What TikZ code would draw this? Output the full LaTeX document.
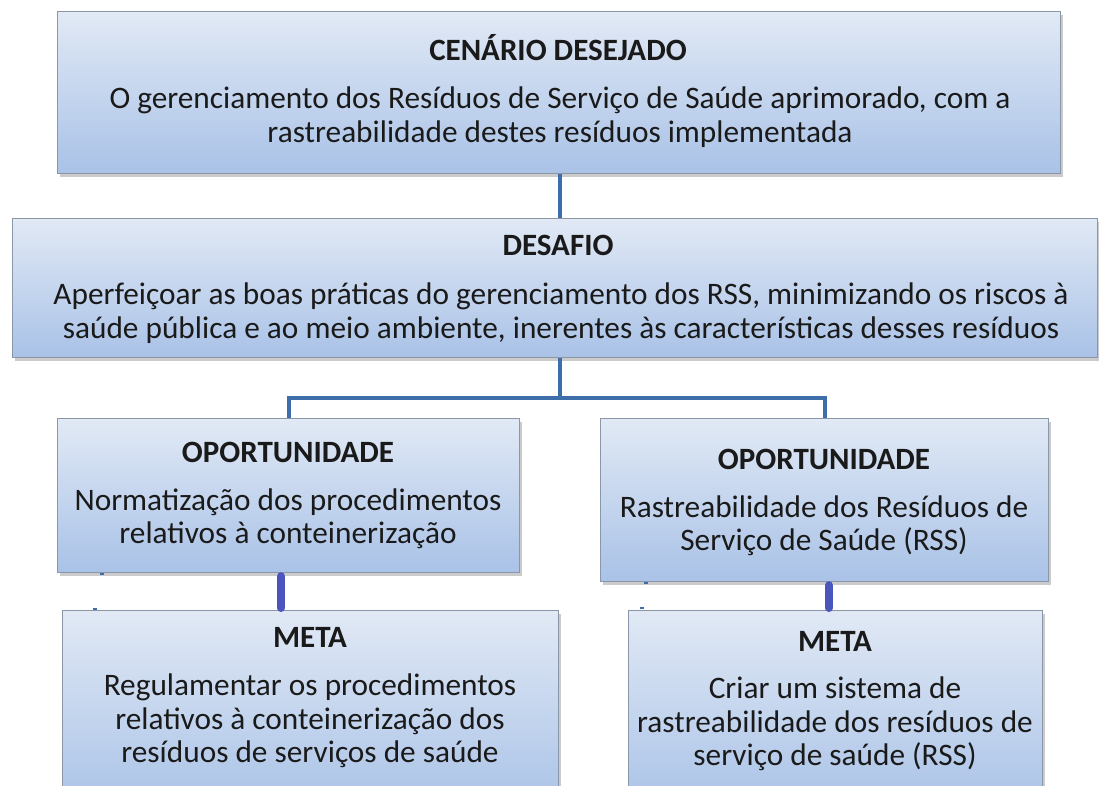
\documentclass[tikz,border=0pt]{standalone}
\usepackage{fontspec}
\setmainfont{Carlito}
\usetikzlibrary{shadows}
\definecolor{boxtop}{HTML}{E1E9F5}
\definecolor{boxbot}{HTML}{A9C2E7}
\definecolor{boxline}{HTML}{8A97A8}
\definecolor{linkA}{HTML}{3E6EAA}
\definecolor{linkB}{HTML}{4A56BE}
\definecolor{txt}{HTML}{1A1A1A}
\tikzset{
  x=1pt,y=-1pt,
  box/.style={draw=boxline, line width=1.2pt, top color=boxtop, bottom color=boxbot,
    anchor=north west, inner sep=0pt, drop shadow={shadow xshift=2.5pt, shadow yshift=-3pt, fill=black!45, opacity=0.45}},
  ttl/.style={font=\fontsize{31}{34}\selectfont\bfseries, text=txt, inner sep=0pt},
  body/.style={font=\fontsize{31.3}{33.5}\selectfont, text=txt, align=center, inner sep=0pt},
  linkup/.style={draw=linkA, line width=4pt},
  linkdn/.style={draw=linkB, line width=8pt, line cap=round},
  tick/.style={draw=linkA, line width=2pt}
}
\begin{document}
\begin{tikzpicture}
\useasboundingbox (0,0) rectangle (1099,785);
\clip (0,0) rectangle (1099,785);
\fill[white] (0,0) rectangle (1099,785);

% boxes
\node[box, minimum width=1003pt, minimum height=162pt] (top) at (57,11) {};
\node[box, minimum width=1085pt, minimum height=139pt] (des) at (12,218) {};
\node[box, minimum width=462pt, minimum height=154pt] (op1) at (57,418) {};
\node[box, minimum width=448pt, minimum height=163pt] (op2) at (600,418) {};
\node[box, minimum width=496pt, minimum height=200pt] (me1) at (62,610) {};
\node[box, minimum width=414pt, minimum height=200pt] (me2) at (628,610) {};

% connector coordinates
\coordinate (cx) at (560,0);
\coordinate (hy) at (0,398);
\coordinate (lx) at (281,0);
\coordinate (rx) at (829,0);

% connectors
\draw[linkup] (top.south -| cx) -- (des.north -| cx);
\draw[linkup] (des.south -| cx) -- (cx |- hy);
\draw[linkup, line join=miter] (op1.north) -- (op1.north |- hy) -- (op2.north |- hy) -- (op2.north);
\draw[linkdn] ([yshift=-3pt]op1.south -| lx) -- ([yshift=2pt]me1.north -| lx);
\draw[linkdn] ([yshift=-3pt]op2.south -| rx) -- ([yshift=2pt]me2.north -| rx);

% small marks
\draw[tick] (100,574) -- (104,574);
\draw[tick] (93,609) -- (97,609);
\draw[tick] (644,583) -- (648,583);
\draw[tick] (640,608) -- (644,608);

% texts
\node[ttl] (t1) at (558,48) {CENÁRIO DESEJADO};
\node[body] (b1) at (560,117) {O gerenciamento dos Resíduos de Serviço de Saúde aprimorado, com a\\rastreabilidade destes resíduos implementada};

\node[ttl] (t2) at (558,245) {DESAFIO};
\node[body] (b2) at (561,313) {Aperfeiçoar as boas práticas do gerenciamento dos RSS, minimizando os riscos à\\saúde pública e ao meio ambiente, inerentes às características desses resíduos};

\node[ttl] (t3) at (288,452) {OPORTUNIDADE};
\node[body] (b3) at (288,519) {Normatização dos procedimentos\\relativos à conteinerização};

\node[ttl] (t4) at (824,459) {OPORTUNIDADE};
\node[body] (b4) at (824,526) {Rastreabilidade dos Resíduos de\\Serviço de Saúde (RSS)};

\node[ttl] (t5) at (310,637) {META};
\node[body] (b5) at (310,721) {Regulamentar os procedimentos\\relativos à conteinerização dos\\resíduos de serviços de saúde};

\node[ttl] (t6) at (835,641) {META};
\node[body] (b6) at (835,724) {Criar um sistema de\\rastreabilidade dos resíduos de\\serviço de saúde (RSS)};
\end{tikzpicture}
\end{document}
